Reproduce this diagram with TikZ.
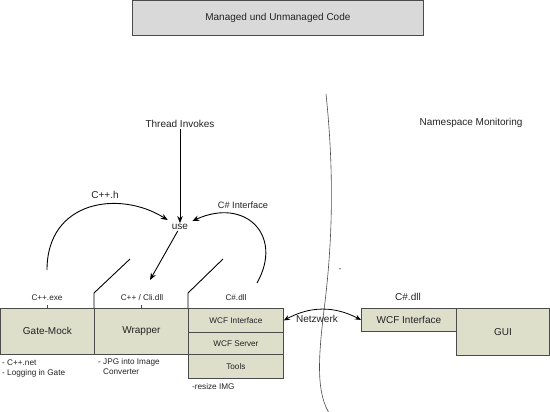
\documentclass[tikz,border=0pt]{standalone}
\usepackage{fontspec}
\setmainfont{Liberation Sans}
\usetikzlibrary{arrows.meta}
\definecolor{boxfill}{RGB}{221,223,203}
\definecolor{titlefill}{RGB}{217,217,217}
\definecolor{edge}{RGB}{75,75,75}
\definecolor{txt}{RGB}{35,35,35}
\begin{document}
\begin{tikzpicture}[x=1pt,y=-1pt,
  box/.style={draw=edge, fill=boxfill, line width=0.8pt, inner sep=0pt, anchor=north west,
    font=\fontsize{10}{12}\selectfont, text=txt},
  sbox/.style={box, font=\fontsize{8.2}{10}\selectfont},
  lbl/.style={inner sep=1pt, font=\fontsize{10}{12}\selectfont, text=txt},
  slbl/.style={lbl, font=\fontsize{8.2}{10}\selectfont},
  arr/.style={-{Stealth[length=7pt,width=5.5pt]}, line width=0.9pt, black},
  dbl/.style={{Stealth[length=6pt,width=5pt]}-{Stealth[length=6pt,width=5pt]}, line width=0.8pt, black},
  thin line/.style={line width=0.9pt, black}]
\useasboundingbox (0,0) rectangle (550,412);

% title
\node[draw=edge, fill=titlefill, line width=0.8pt, minimum width=291pt, minimum height=35pt,
  anchor=north west, inner sep=0pt, font=\fontsize{10}{12}\selectfont, text=txt]
  (title) at (132,0.5) {Managed und Unmanaged Code};

% divider
\draw[line width=0.6pt, edge] (326,94) .. controls (334,170) and (333,240) .. (324,310)
  .. controls (318,360) and (316,395) .. (331,416);

% left boxes
\node[box, minimum width=94pt, minimum height=46pt] (gate) at (0,308) {Gate-Mock};
\node[box, minimum width=94pt, minimum height=46pt] (wrap) at (94,308) {Wrapper};
\node[sbox, minimum width=95pt, minimum height=24pt] (wcfi) at (188,308) {WCF Interface};
\node[sbox, minimum width=95pt, minimum height=22pt] (wcfs) at (188,332) {WCF Server};
\node[sbox, minimum width=95pt, minimum height=24pt] (tools) at (188,354) {Tools};

% right boxes
\node[box, minimum width=95pt, minimum height=23pt] (rwcf) at (361,308) {WCF Interface};
\node[box, minimum width=93pt, minimum height=47pt] (gui) at (456,308) {GUI};

% labels
\node[slbl] (cppexe) at (47,298) {C++.exe};
\node[slbl] (cli) at (142,298) {C++ / Cli.dll};
\node[slbl] (csdll) at (236,298) {C\#.dll};
\node[lbl] (csdll2) at (408,297) {C\#.dll};
\node[lbl] (use) at (180,227) {use};
\node[lbl] (thread) at (180,124) {Thread Invokes};
\node[lbl] (cpph) at (105,195) {C++.h};
\node[lbl, font=\fontsize{9.2}{11}\selectfont] (csint) at (243,205) {C\# Interface};
\node[lbl] (netz) at (317,319) {Netzwerk};
\node[lbl] (ns) at (471,123) {Namespace Monitoring};
\node[slbl] (dash) at (340,270) {-};
\node[slbl, anchor=west, align=left] (gnote) at (1,368) {- C++.net\\- Logging in Gate};
\node[slbl, anchor=west, align=left] (wnote) at (97,367) {- JPG into Image\\\hspace*{0.6em}Converter};
\node[slbl, anchor=west] (tnote) at (191,387) {-resize IMG};

% ticks and slanted lines
\draw[line width=0.6pt, edge] (gate.north) -- ++(0,-3);
\draw[line width=0.6pt, edge] (wrap.north) -- ++(0,-3);
\draw[thin line] (wrap.north west) -- ++(0,-15) -- ++(36,-34);
\draw[thin line] (wcfi.north west) -- ++(0,-15) -- ++(35,-34);

% arrows
\coordinate (a1) at (47,270);
\coordinate (b1) at (257,283);
\coordinate (u2) at (150,280);
\draw[arr] (thread) -- (use);
\draw[arr] (a1) .. controls (47,200) and (120,190) .. ([xshift=-3pt,yshift=3pt]use.north west);
\draw[arr] (use) -- (u2);
\draw[arr] (b1) .. controls (284,235) and (245,197) .. ([xshift=3pt,yshift=2pt]use.north east);
\draw[dbl] (wcfi.east) to[bend left=28] (rwcf.west);
\end{tikzpicture}
\end{document}
